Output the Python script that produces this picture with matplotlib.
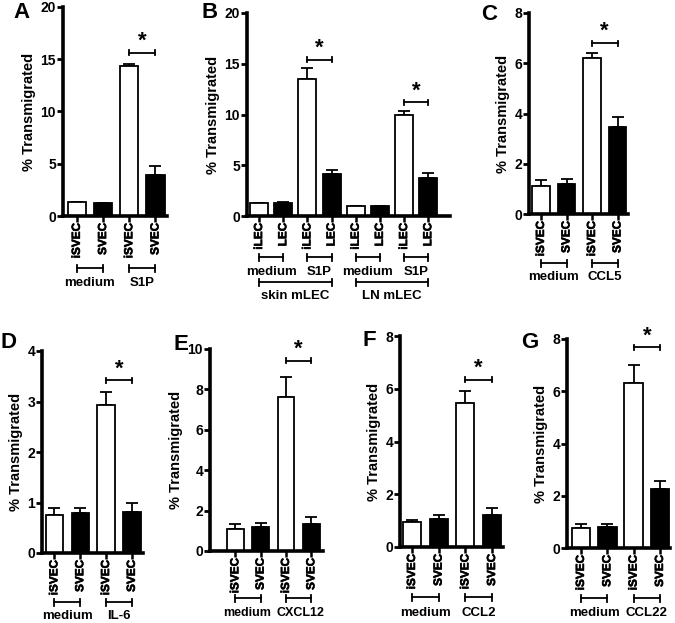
import numpy as np
import matplotlib
matplotlib.use("Agg")
import matplotlib.pyplot as plt
import matplotlib.patheffects as pe

plt.rcParams['font.family'] = ['Liberation Sans', 'DejaVu Sans']
plt.rcParams['font.weight'] = 'bold'
plt.rcParams['axes.labelweight'] = 'bold'

# data (mean, upper SEM)
a_labels = ['iSVEC', 'SVEC', 'iSVEC', 'SVEC']
a_vals = [1.3, 1.2, 14.4, 3.9]
a_errs = [0.0, 0.05, 0.15, 0.9]

b_labels = ['iLEC', 'LEC', 'iLEC', 'LEC', 'iLEC', 'LEC', 'iLEC', 'LEC']
b_vals = [1.3, 1.25, 13.5, 4.1, 1.0, 1.0, 10.0, 3.7]
b_errs = [0.0, 0.1, 1.05, 0.45, 0.0, 0.0, 0.3, 0.58]

c_vals = [1.13, 1.21, 6.2, 3.45]
c_errs = [0.24, 0.2, 0.21, 0.41]

d_vals = [0.76, 0.79, 2.93, 0.82]
d_errs = [0.13, 0.11, 0.26, 0.17]

e_vals = [1.11, 1.19, 7.6, 1.36]
e_errs = [0.25, 0.22, 0.99, 0.33]

f_vals = [0.96, 1.08, 5.47, 1.2]
f_errs = [0.08, 0.15, 0.45, 0.26]

g_vals = [0.77, 0.81, 6.31, 2.24]
g_errs = [0.14, 0.12, 0.71, 0.32]

sv_labels = ['iSVEC', 'SVEC', 'iSVEC', 'SVEC']

W, H = 675, 623
fig = plt.figure(figsize=(W / 100, H / 100), dpi=100)
heavy = [pe.withStroke(linewidth=0.4, foreground='black')]


def make_ax(left, right, top, bottom):
    return fig.add_axes([left / W, 1 - bottom / H, (right - left) / W, (bottom - top) / H])


def bracket(ax, x0, x1, off_px, cap=3.5):
    hpx = ax.get_position().height * H
    y = -off_px / hpx
    c = cap / hpx
    tr = ax.get_xaxis_transform()
    ax.plot([x0, x1], [y, y], color='black', lw=1.3, transform=tr, clip_on=False)
    for xx in (x0, x1):
        ax.plot([xx, xx], [y - c, y + c], color='black', lw=1.3, transform=tr, clip_on=False)


def group_text(ax, x, off_px, txt, size=9.5):
    hpx = ax.get_position().height * H
    ax.text(x, -off_px / hpx, txt, transform=ax.get_xaxis_transform(),
            ha='center', va='center', fontsize=size, fontweight='bold')


def panel(ax, vals, errs, labels, ylim, yticks, width, xlim):
    x = np.arange(len(vals))
    colors = ['white' if i % 2 == 0 else 'black' for i in range(len(vals))]
    ax.bar(x, vals, width=width, color=colors, edgecolor='black', linewidth=1.3, zorder=2)
    ax.errorbar(x, vals, yerr=[np.zeros(len(vals)), errs], fmt='none',
                ecolor='black', elinewidth=1.3, capsize=4, capthick=1.3, zorder=1)
    ax.set_ylim(*ylim)
    ax.set_yticks(yticks)
    ax.set_yticklabels([str(t) for t in yticks], fontsize=10, fontweight='bold')
    ax.set_xlim(*xlim)
    ax.set_xticks(x)
    ax.set_xticklabels(labels, rotation=90, fontsize=8.5, fontweight='bold')
    for t in ax.get_xticklabels():
        t.set_path_effects(heavy)
    for s in ['top', 'right']:
        ax.spines[s].set_visible(False)
    for s in ['left', 'bottom']:
        ax.spines[s].set_linewidth(2.6)
    ax.tick_params(axis='y', direction='out', length=4, width=2, pad=1)
    ax.tick_params(axis='x', direction='out', length=4, width=1.8, pad=1)
    ax.set_ylabel('% Transmigrated', fontsize=10.5, fontweight='bold', labelpad=3)
    ax.patch.set_alpha(0)


def sig(ax, x0, x1, y, ylim):
    h = (ylim[1] - ylim[0]) * 0.012
    ax.plot([x0, x1], [y, y], color='black', lw=1.3, clip_on=False)
    ax.plot([x0, x0], [y - h, y + h], color='black', lw=1.3, clip_on=False)
    ax.plot([x1, x1], [y - h, y + h], color='black', lw=1.3, clip_on=False)
    ax.text((x0 + x1) / 2, y + (ylim[1] - ylim[0]) * 0.005, '*', ha='center', va='bottom',
            fontsize=16, fontweight='bold')


# A
axA = make_ax(63, 167, 7, 216)
panel(axA, a_vals, a_errs, a_labels, (0, 20), [0, 5, 10, 15, 20], 0.69, (-0.53, 3.44))
sig(axA, 2, 3, 15.6, (0, 20))
bracket(axA, 0, 1, 52)
bracket(axA, 2, 3, 52)
group_text(axA, 0.5, 67, 'medium')
group_text(axA, 2.5, 67, 'S1P')

# B
axB = make_ax(247, 450, 13, 216)
panel(axB, b_vals, b_errs, b_labels, (0, 20), [0, 5, 10, 15, 20], 0.75, (-0.5, 7.9))
sig(axB, 2, 3, 15.4, (0, 20))
sig(axB, 6, 7, 11.2, (0, 20))
for i, name in enumerate(['medium', 'S1P', 'medium', 'S1P']):
    bracket(axB, 2 * i, 2 * i + 1, 41)
    group_text(axB, 2 * i + 0.5, 56, name)
bracket(axB, 0, 3, 66)
bracket(axB, 4, 7, 66)
group_text(axB, 1.5, 80, 'skin mLEC')
group_text(axB, 5.5, 80, 'LN mLEC')

# C
axC = make_ax(529, 628, 13, 214)
panel(axC, c_vals, c_errs, sv_labels, (0, 8), [0, 2, 4, 6, 8], 0.67, (-0.47, 3.41))
sig(axC, 2, 3, 6.8, (0, 8))
bracket(axC, 0, 1, 49)
bracket(axC, 2, 3, 49)
group_text(axC, 0.5, 63, 'medium')
group_text(axC, 2.5, 63, 'CCL5')

# D
axD = make_ax(42, 143, 351, 553)
panel(axD, d_vals, d_errs, sv_labels, (0, 4), [0, 1, 2, 3, 4], 0.67, (-0.48, 3.43))
sig(axD, 2, 3, 3.42, (0, 4))
bracket(axD, 0, 1, 49)
bracket(axD, 2, 3, 49)
group_text(axD, 0.5, 63, 'medium')
group_text(axD, 2.5, 63, 'IL-6')

# E
axE = make_ax(210, 323, 349, 551)
panel(axE, e_vals, e_errs, sv_labels, (0, 10), [0, 2, 4, 6, 8, 10], 0.66, (-1.0, 3.46))
sig(axE, 2, 3, 9.42, (0, 10))
bracket(axE, 0, 1, 47)
bracket(axE, 2, 3, 47)
group_text(axE, 0.45, 62, 'medium', size=9)
group_text(axE, 2.55, 62, 'CXCL12', size=9)

# F
axF = make_ax(400, 503, 336, 547)
panel(axF, f_vals, f_errs, sv_labels, (0, 8), [0, 2, 4, 6, 8], 0.67, (-0.45, 3.41))
sig(axF, 2, 3, 6.35, (0, 8))
bracket(axF, 0, 1, 50)
bracket(axF, 2, 3, 50)
group_text(axF, 0.5, 66, 'medium')
group_text(axF, 2.5, 66, 'CCL2')

# G
axG = make_ax(567, 670, 339, 548)
panel(axG, g_vals, g_errs, sv_labels, (0, 8), [0, 2, 4, 6, 8], 0.7, (-0.53, 3.38))
sig(axG, 2, 3, 7.68, (0, 8))
bracket(axG, 0, 1, 50)
bracket(axG, 2, 3, 50)
group_text(axG, 0.5, 65, 'medium')
group_text(axG, 2.5, 65, 'CCL22')

# panel letters
for letter, px, py in [('A', 22, 13), ('B', 210, 12), ('C', 489, 14), ('D', 8, 343),
                       ('E', 181, 344), ('F', 369, 340), ('G', 530, 342)]:
    fig.text(px / W, 1 - py / H, letter, fontsize=16, fontweight='bold', ha='center', va='center')

fig.savefig('out.png', dpi=100, facecolor='white')
